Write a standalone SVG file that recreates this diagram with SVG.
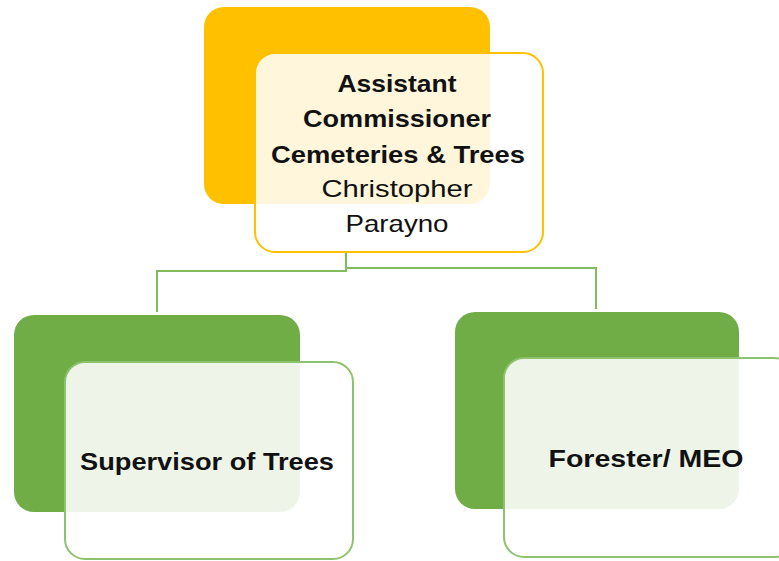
<svg xmlns="http://www.w3.org/2000/svg" width="779" height="561" viewBox="0 0 779 561">
<style>
.bgO{fill:#FFC000}
.bgG{fill:#70AD47}
.fO{fill:#FFFFFF;fill-opacity:0.86;stroke:#FFC000;stroke-width:2}
.fG{fill:#FFFFFF;fill-opacity:0.88;stroke:#8DC26E;stroke-width:2}
.conn{fill:none;stroke:#82BA5E;stroke-width:2}
.t{font-family:"Liberation Sans",Arial,sans-serif;font-size:24px;fill:#111;text-anchor:middle}
.b{font-weight:bold}
</style>
<rect width="779" height="561" fill="#FFFFFF"/>
<g id="connectors">
<path class="conn" d="M346,252 V271 H157 V312"/>
<path class="conn" d="M346,271 V268 H596 V309"/>
</g>
<g id="node-assistant-commissioner">
<rect class="bgO" x="204" y="7" width="286" height="197" rx="20"/>
<rect class="fO" x="255" y="53" width="288" height="199" rx="20"/>
<text class="t b" x="397" y="92" textLength="119" lengthAdjust="spacingAndGlyphs">Assistant</text>
<text class="t b" x="397" y="127" textLength="188" lengthAdjust="spacingAndGlyphs">Commissioner</text>
<text class="t b" x="398" y="163" textLength="254" lengthAdjust="spacingAndGlyphs">Cemeteries &amp; Trees</text>
<text class="t" x="397" y="197" textLength="151" lengthAdjust="spacingAndGlyphs">Christopher</text>
<text class="t" x="397" y="232" textLength="103" lengthAdjust="spacingAndGlyphs">Parayno</text>
</g>
<g id="node-supervisor-of-trees">
<rect class="bgG" x="14" y="315" width="286" height="197" rx="20"/>
<rect class="fG" x="65" y="362" width="288" height="197" rx="20"/>
<text class="t b" x="207" y="470" textLength="254" lengthAdjust="spacingAndGlyphs">Supervisor of Trees</text>
</g>
<g id="node-forester-meo">
<rect class="bgG" x="455" y="312" width="284" height="197" rx="20"/>
<rect class="fG" x="504" y="358" width="290" height="199" rx="20"/>
<text class="t b" x="646" y="467" textLength="195" lengthAdjust="spacingAndGlyphs">Forester/ MEO</text>
</g>
</svg>
